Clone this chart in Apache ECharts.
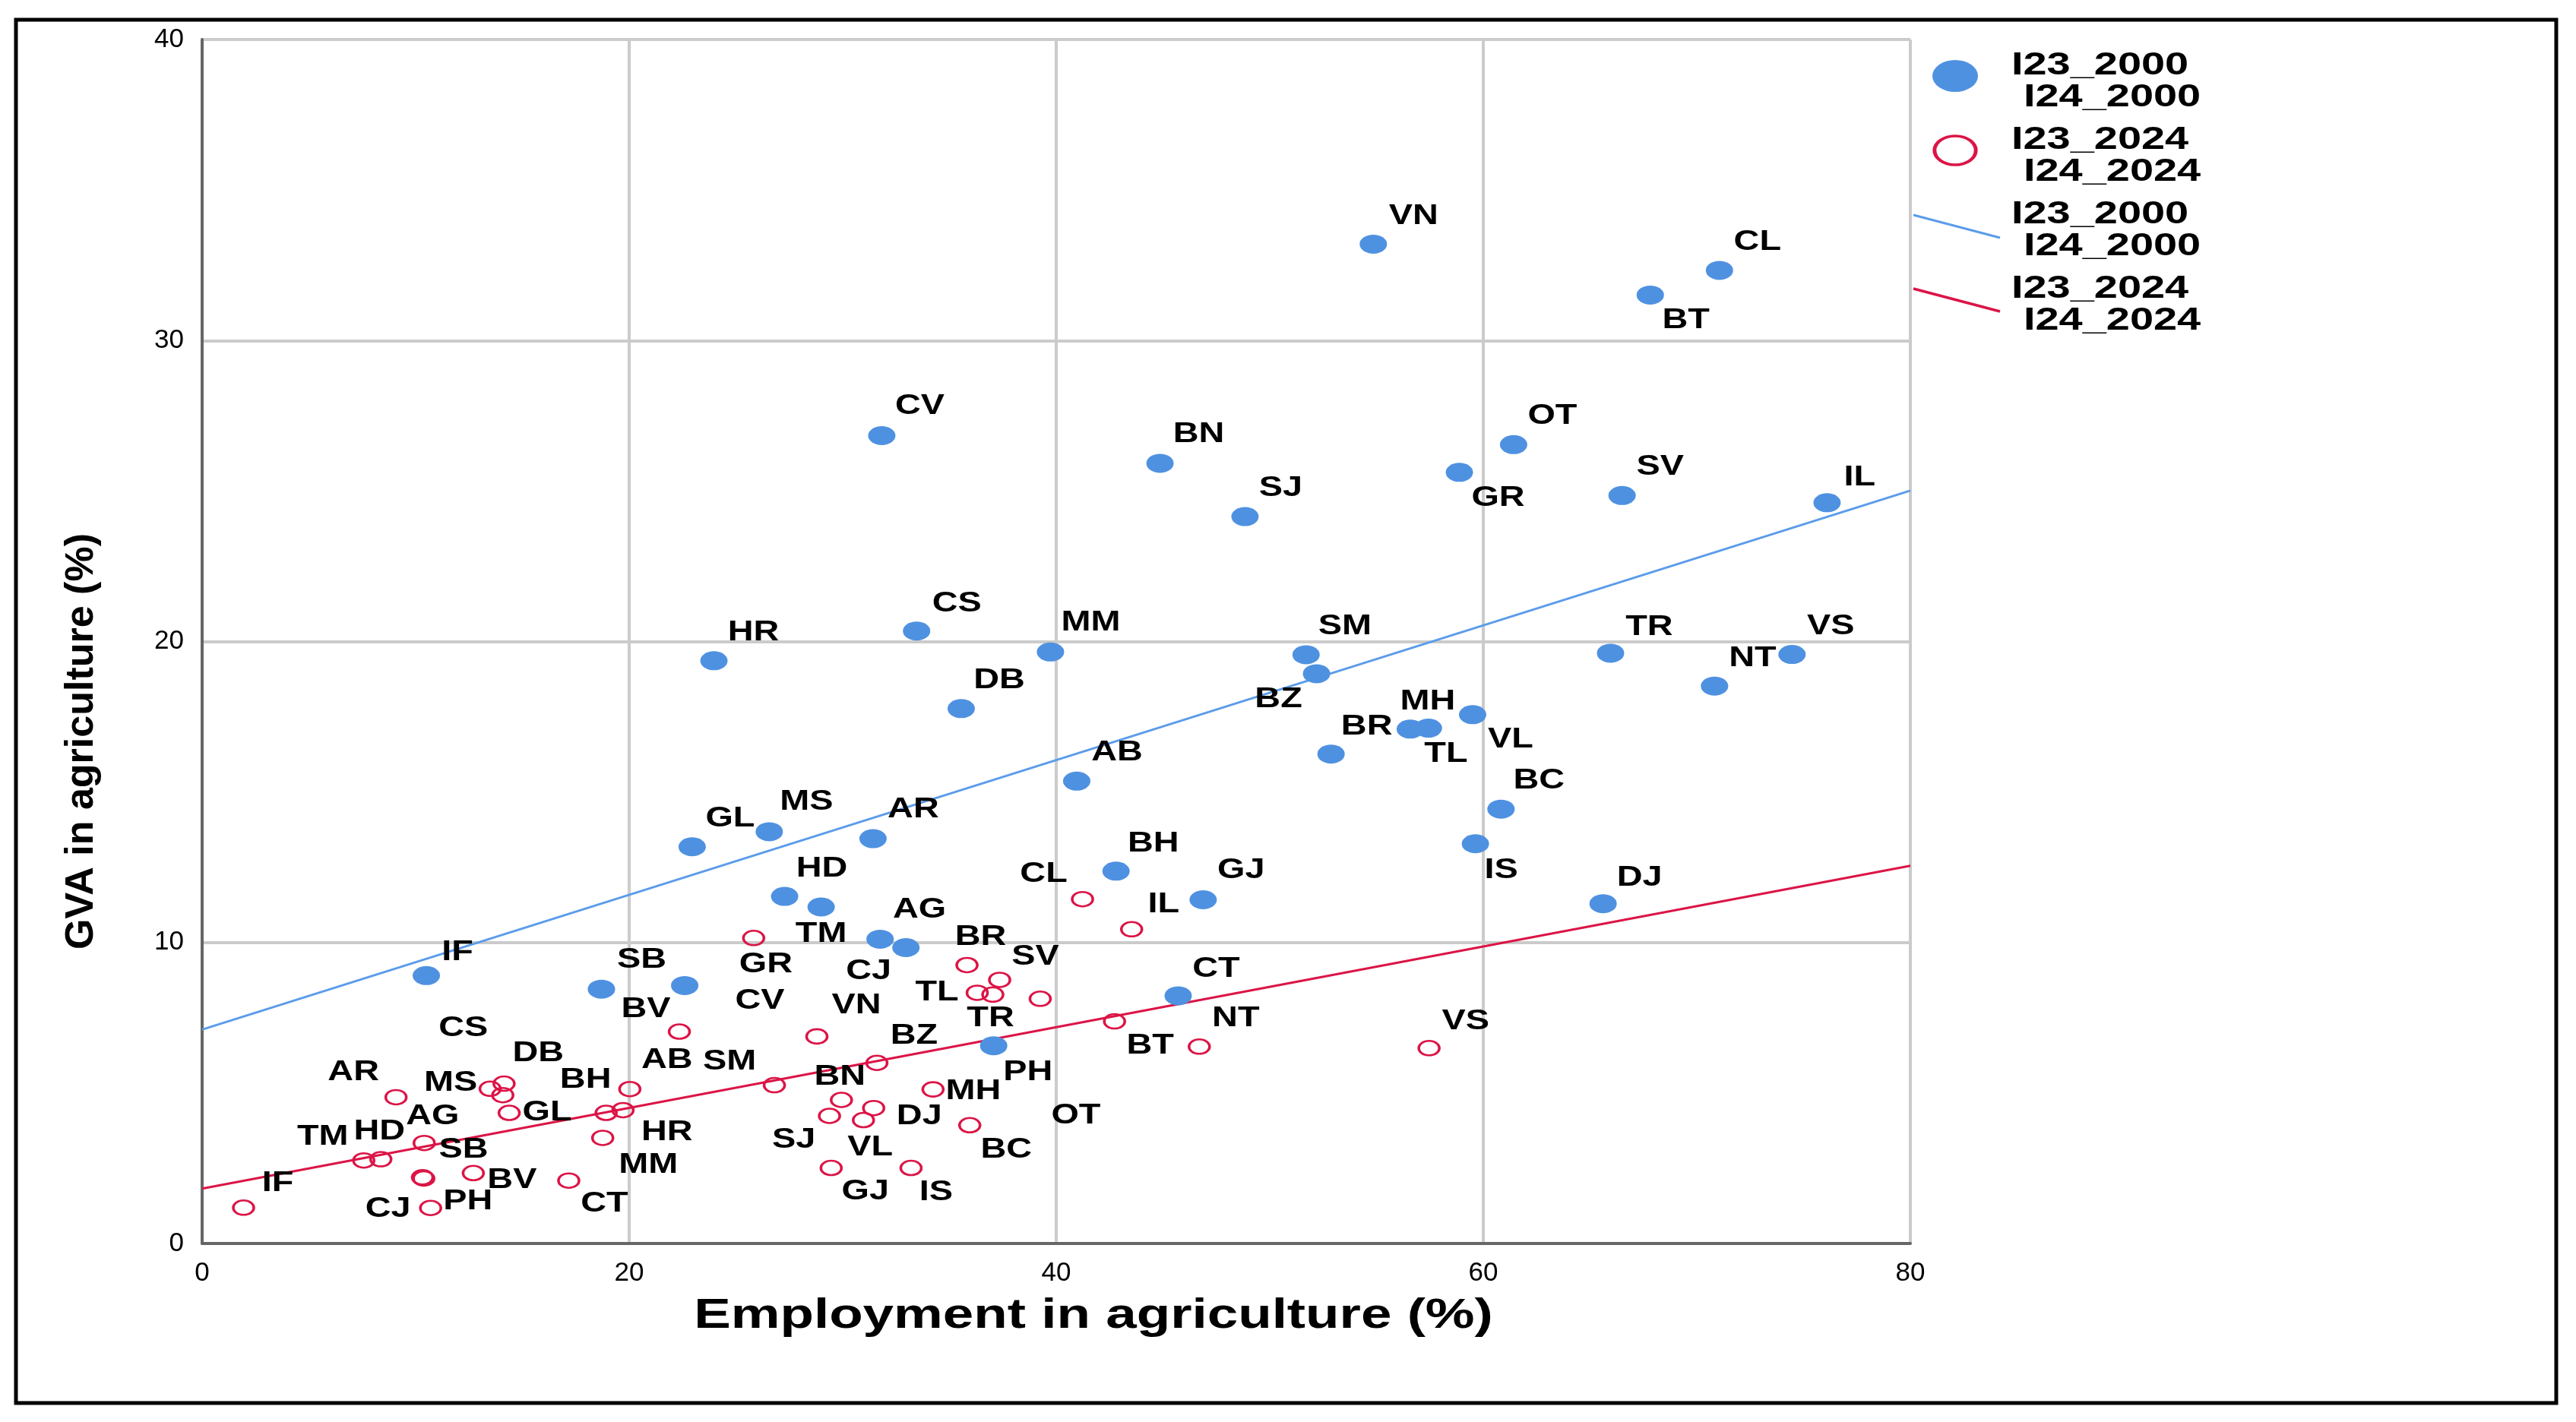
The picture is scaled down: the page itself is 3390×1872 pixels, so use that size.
<!DOCTYPE html>
<html>
<head>
<meta charset="utf-8">
<title>GVA vs employment in agriculture</title>
<script src="https://cdn.jsdelivr.net/npm/echarts@6/dist/echarts.min.js"></script>
<style>
  html, body { margin: 0; padding: 0; background: #fff; }
  #chart { width: 3390px; height: 1872px; }
</style>
</head>
<body>
<div id="chart"></div>
<script>
// county codes, same order in every array below
const codes = ['AB','AR','AG','BC','BH','BN','BT','BV','BR','BZ','CS','CL','CJ','CT','CV','DB','DJ','GL','GR','GJ','HR',
               'HD','IL','IS','IF','MM','MH','MS','NT','OT','PH','SM','SJ','SB','SV','TR','TM','TL','VS','VL','VN'];

// I23 / I24 in 2000: employment in agriculture (%), GVA in agriculture (%)
const emp2000 = [40.96,31.42,31.75,60.83,42.8,44.86,67.82,22.6,52.87,52.19,33.46,71.06,32.96,45.71,31.83,35.55,65.61,22.95,58.88,46.88,23.97,
                 27.28,76.1,59.63,10.5,39.73,57.43,26.56,70.83,61.42,37.07,51.7,48.84,18.7,66.5,65.96,28.99,56.58,74.46,59.5,54.85];
const gva2000 = [15.36,13.45,10.11,14.43,12.37,25.92,31.51,8.57,16.26,18.93,20.35,32.33,9.83,8.23,26.84,17.77,11.29,13.18,25.62,11.42,19.36,
                 11.53,24.61,13.28,8.9,19.65,17.12,13.68,18.52,26.54,6.57,19.56,24.15,8.45,24.85,19.61,11.18,17.09,19.57,17.57,33.2];

// I23 / I24 in 2024
const emp2024 = [20.03,9.08,10.4,35.95,18.92,29.94,42.73,12.7,35.82,31.6,14.08,41.23,10.38,17.17,22.35,14.14,31.45,14.38,25.83,29.46,19.71,
                 8.37,43.53,33.2,1.94,18.76,34.23,13.49,46.7,39.25,10.7,26.8,29.38,10.32,37.35,37.03,7.57,36.3,57.46,30.97,28.79];
const gva2024 = [5.13,4.86,3.34,3.93,4.34,4.77,7.38,2.34,9.25,6.0,4.93,11.44,2.16,2.09,7.04,5.31,4.5,4.34,10.15,2.51,4.43,
                 2.8,10.44,2.51,1.19,3.51,5.12,5.14,6.54,8.13,1.18,5.26,4.24,2.2,8.76,8.27,2.76,8.33,6.49,4.1,6.88];

const xTicks = [0, 20, 40, 60, 80];
const yTicks = [0, 10, 20, 30, 40];

// where each point label sits, in pixels from its point (label placement only)
const labelOffset2000 = {
  AB:[53,-37], AR:[53,-38], AG:[52,-38], BC:[50,-37], BH:[49,-36], BN:[51,-38], BT:[47,34], BV:[-51,32], BR:[47,-36],
  BZ:[-50,34], CS:[53,-36], CL:[50,-37], CJ:[-49,32], CT:[50,-35], CV:[50,-38], DB:[50,-37], DJ:[48,-34], GL:[50,-37],
  GR:[51,34], GJ:[50,-38], HR:[52,-37], HD:[49,-36], IL:[43,-33], IS:[34,35], IF:[41,-30], MM:[53,-38], MH:[-1,-35],
  MS:[49,-39], NT:[50,-36], OT:[51,-37], PH:[45,35], SM:[51,-37], SJ:[47,-37], SB:[53,-38], SV:[50,-37], TR:[51,-34],
  TM:[0,36], TL:[47,33], VS:[51,-36], VL:[50,33], VN:[53,-36]
};
const labelOffset2024 = {
  AB:[49,-38], AR:[-56,-32], AG:[11,-35], BC:[48,33], BH:[-27,-43], BN:[-2,-30], BT:[47,33], BV:[51,10], BR:[18,-36],
  BZ:[49,-35], CS:[-52,-88], CL:[-51,-33], CJ:[-47,41], CT:[47,31], CV:[106,-40], DB:[45,-40], DJ:[60,11], GL:[50,0],
  GR:[16,35], GJ:[45,32], HR:[58,30], HD:[-2,-36], IL:[42,-32], IS:[33,33], IF:[45,-32], MM:[60,36], MH:[53,3],
  MS:[-52,-7], NT:[48,-37], OT:[47,154], PH:[49,-8], SM:[-59,-30], SJ:[-47,32], SB:[54,-36], SV:[47,-30], TR:[-3,32],
  TM:[-54,-31], TL:[-53,0], VS:[48,-35], VL:[9,37], VN:[52,-40]
};

const FONT = '"Liberation Sans", Arial, sans-serif';
const BLUE = '#4f91e1';
const RED = '#dc1446';
const STRETCH = 1.3;   // the original text is drawn wide

// least squares fit line across the whole x axis
function fitLine(xs, ys) {
  const n = xs.length;
  const mx = xs.reduce((a, b) => a + b, 0) / n;
  const my = ys.reduce((a, b) => a + b, 0) / n;
  let sxy = 0, sxx = 0;
  for (let i = 0; i < n; i++) {
    sxy += (xs[i] - mx) * (ys[i] - my);
    sxx += (xs[i] - mx) * (xs[i] - mx);
  }
  const b = sxy / sxx;
  const a = my - b * mx;
  const x0 = xTicks[0], x1 = xTicks[xTicks.length - 1];
  return [[x0, a + b * x0], [x1, a + b * x1]];
}

function pairs(xs, ys) {
  return xs.map((x, i) => [x, ys[i]]);
}

// point labels drawn through the cartesian coords
function labelSeries(name, xs, ys, offsets) {
  return {
    type: 'custom',
    name: name,
    coordinateSystem: 'cartesian2d',
    silent: true,
    z: 6,
    clip: false,
    data: pairs(xs, ys),
    encode: { x: 0, y: 1 },
    renderItem: function (params, api) {
      const p = api.coord([api.value(0), api.value(1)]);
      const code = codes[params.dataIndex];
      const d = offsets[code] || [50, -37];
      return {
        type: 'text',
        x: p[0] + d[0],
        y: p[1] + d[1],
        scaleX: STRETCH,
        style: {
          text: code, fill: '#000', fontSize: 36, fontWeight: 'bold', fontFamily: FONT,
          align: 'center', verticalAlign: 'middle'
        }
      };
    }
  };
}

function legendText(lines, y) {
  return lines.map((t, i) => ({
    type: 'text',
    x: 2647 + i * 16,
    y: y + i * 42,
    scaleX: STRETCH,
    style: { text: t, fill: '#000', fontSize: 43, fontWeight: 'bold', fontFamily: FONT, verticalAlign: 'middle' }
  }));
}

const chart = echarts.init(document.getElementById('chart'));

const option = {
  animation: false,
  backgroundColor: '#fff',
  grid: { left: 266, right: 876, top: 52, bottom: 235, containLabel: false },
  xAxis: {
    type: 'value',
    min: xTicks[0], max: xTicks[xTicks.length - 1], interval: xTicks[1] - xTicks[0],
    axisLine: { show: true, onZero: false, lineStyle: { color: '#666', width: 4 } },
    axisTick: { show: false },
    axisLabel: { fontSize: 35, color: '#000', fontFamily: FONT, margin: 22 },
    splitLine: { show: true, lineStyle: { color: '#cbcbcb', width: 4 } }
  },
  yAxis: {
    type: 'value',
    min: yTicks[0], max: yTicks[yTicks.length - 1], interval: yTicks[1] - yTicks[0],
    axisLine: { show: true, onZero: false, lineStyle: { color: '#666', width: 4 } },
    axisTick: { show: false },
    axisLabel: { fontSize: 35, color: '#000', fontFamily: FONT, margin: 24 },
    splitLine: { show: true, lineStyle: { color: '#cbcbcb', width: 4 } }
  },
  series: [
    {
      name: 'I23_2000 I24_2000',
      type: 'scatter',
      data: pairs(emp2000, gva2000),
      symbol: 'circle',
      symbolSize: [36, 25],
      itemStyle: { color: BLUE, opacity: 1 },
      z: 4
    },
    {
      name: 'I23_2024 I24_2024',
      type: 'scatter',
      data: pairs(emp2024, gva2024),
      symbol: 'circle',
      symbolSize: [27, 19],
      itemStyle: { color: 'rgba(0,0,0,0)', borderColor: RED, borderWidth: 3, opacity: 1 },
      z: 4
    },
    {
      name: 'fit 2000',
      type: 'line',
      data: fitLine(emp2000, gva2000),
      showSymbol: false,
      symbol: 'none',
      lineStyle: { color: '#5b9cea', width: 3 },
      z: 3
    },
    {
      name: 'fit 2024',
      type: 'line',
      data: fitLine(emp2024, gva2024),
      showSymbol: false,
      symbol: 'none',
      lineStyle: { color: RED, width: 3 },
      z: 3
    },
    labelSeries('labels 2000', emp2000, gva2000, labelOffset2000),
    labelSeries('labels 2024', emp2024, gva2024, labelOffset2024)
  ],
  graphic: [
    // outer frame
    { type: 'rect', shape: { x: 21, y: 26, width: 3343, height: 1821 },
      style: { fill: null, stroke: '#000', lineWidth: 5 }, z: 10 },
    // axis titles
    { type: 'text', x: 1439, y: 1733, scaleX: STRETCH,
      style: { text: 'Employment in agriculture (%)', fill: '#000', fontSize: 56, fontWeight: 'bold',
               fontFamily: FONT, align: 'center', verticalAlign: 'middle' } },
    { type: 'text', x: 108, y: 976, rotation: Math.PI / 2,
      style: { text: 'GVA in agriculture (%)', fill: '#000', fontSize: 52, fontWeight: 'bold',
               fontFamily: FONT, align: 'center', verticalAlign: 'middle' } },
    // legend
    { type: 'circle', x: 2573, y: 100, scaleX: 1.43, shape: { cx: 0, cy: 0, r: 21 },
      style: { fill: BLUE } },
    { type: 'circle', x: 2573, y: 198, scaleX: 1.43, shape: { cx: 0, cy: 0, r: 19 },
      style: { fill: null, stroke: RED, lineWidth: 3.5, strokeNoScale: true } },
    { type: 'line', shape: { x1: 2518, y1: 283, x2: 2632, y2: 313 }, style: { stroke: '#5b9cea', lineWidth: 3 } },
    { type: 'line', shape: { x1: 2518, y1: 380, x2: 2632, y2: 410 }, style: { stroke: RED, lineWidth: 3.5 } }
  ]
    .concat(legendText(['I23_2000', 'I24_2000'], 86))
    .concat(legendText(['I23_2024', 'I24_2024'], 184))
    .concat(legendText(['I23_2000', 'I24_2000'], 282))
    .concat(legendText(['I23_2024', 'I24_2024'], 380))
};

chart.setOption(option);
</script>
</body>
</html>
